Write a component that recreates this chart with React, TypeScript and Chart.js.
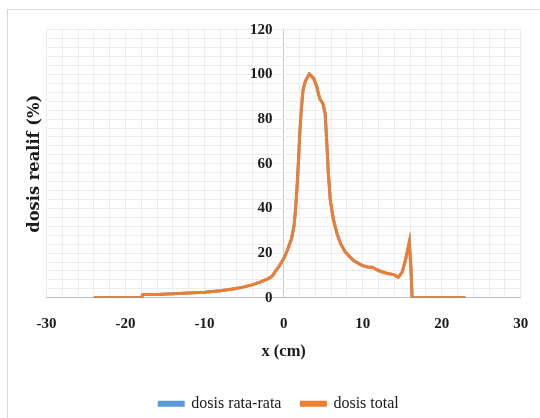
import React, { useEffect, useRef } from "react";
import { Chart, registerables } from "chart.js";

Chart.register(...registerables);

// x positions (cm)
const positions: number[] = [
  -24, -18, -17.8, -16, -14, -12, -10, -8, -6, -5,
  -4, -3, -2, -1.5, -1, -0.5, 0, 0.5, 1.0, 1.3,
  1.5, 1.7, 1.9, 2.0, 2.1, 2.25, 2.45, 2.75, 3.25, 3.8,
  4.2, 4.55, 4.95, 5.25, 5.45, 5.65, 5.9, 6.3, 6.75, 7.2,
  7.8, 8.8, 9.9, 10.7, 11.2, 12.0, 13.0, 13.9, 14.5, 15.0,
  15.4, 15.9, 16.1, 16.25, 23,
];

// relative dose (%) — total
const doseTotal: number[] = [
  0, 0, 1.5, 1.5, 1.8, 2.1, 2.5, 3.2, 4.2, 4.9,
  5.8, 7.0, 8.5, 9.5, 12, 14.5, 17.5, 21.5, 26.5, 32,
  39, 50, 63, 71, 77, 85, 93, 97, 100.2, 98.2,
  94.4, 89.2, 87, 82.5, 70, 56, 43.6, 35, 28.7, 24.2,
  20.5, 16.8, 14.5, 13.7, 13.7, 12.2, 11, 10.4, 9.2, 11.5,
  16.7, 25, 13.5, 0, 0,
];

// relative dose (%) — average (coincides with total)
const doseAverage: number[] = [
  0, 0, 1.5, 1.5, 1.8, 2.1, 2.5, 3.2, 4.2, 4.9,
  5.8, 7.0, 8.5, 9.5, 12, 14.5, 17.5, 21.5, 26.5, 32,
  39, 50, 63, 71, 77, 85, 93, 97, 100.2, 98.2,
  94.4, 89.2, 87, 82.5, 70, 56, 43.6, 35, 28.7, 24.2,
  20.5, 16.8, 14.5, 13.7, 13.7, 12.2, 11, 10.4, 9.2, 11.5,
  16.7, 25, 13.5, 0, 0,
];

const seriesLabels: string[] = ["dosis rata-rata", "dosis total"];
const xTitle = "x (cm)";
const yTitle = "dosis realif (%)";

const tickFont = { family: "'Liberation Serif', serif", size: 15, weight: "bold" as const };

const yTitlePlugin = {
  id: "yTitlePlugin",
  afterDraw(chart: any) {
    const { ctx, chartArea } = chart;
    ctx.save();
    ctx.translate(35, (chartArea.top + chartArea.bottom) / 2);
    ctx.rotate(-Math.PI / 2);
    ctx.font = "bold 16.3px 'DejaVu Serif', serif";
    ctx.fillStyle = "#1a1a1a";
    ctx.textAlign = "center";
    ctx.textBaseline = "middle";
    ctx.fillText(yTitle, 0, 0);
    ctx.restore();
  },
};

export default function App() {
  const canvasRef = useRef<HTMLCanvasElement | null>(null);

  useEffect(() => {
    const canvas = canvasRef.current;
    if (!canvas) return;
    const chart = new Chart(canvas, {
      type: "line",
      data: {
        datasets: [
          {
            label: seriesLabels[0],
            data: positions.map((x, i) => ({ x, y: doseAverage[i] })),
            borderColor: "#5B9BD5",
            backgroundColor: "#5B9BD5",
            borderWidth: 3,
            pointRadius: 0,
            tension: 0,
            order: 2,
          },
          {
            label: seriesLabels[1],
            data: positions.map((x, i) => ({ x, y: doseTotal[i] })),
            borderColor: "#ED7D31",
            backgroundColor: "#ED7D31",
            borderWidth: 3,
            pointRadius: 0,
            tension: 0,
            order: 1,
          },
        ],
      },
      options: {
        animation: false,
        responsive: false,
        devicePixelRatio: 1,
        layout: { padding: { left: 37.2, right: 19.2, top: 29.7, bottom: 18.2 } },
        plugins: {
          tooltip: { enabled: false },
          legend: {
            position: "bottom",
            labels: {
              boxWidth: 24,
              boxHeight: 3,
              padding: 20,
              color: "#1a1a1a",
              font: { family: "'Liberation Serif', serif", size: 16 },
              sort: (a: any, b: any) => a.datasetIndex - b.datasetIndex,
            },
          },
        },
        scales: {
          x: {
            type: "linear",
            min: -30,
            max: 30,
            ticks: {
              stepSize: 2,
              autoSkip: false,
              maxRotation: 0,
              padding: 0,
              color: "#1a1a1a",
              font: tickFont,
              callback: (v: any) => (Number(v) % 10 === 0 ? String(v) : ""),
            },
            grid: {
              color: (c: any) => (c.tick && c.tick.value === 0 ? "#c8c8c8" : "#ececec"),
              drawTicks: true,
              tickLength: 17.7,
              tickColor: "rgba(0,0,0,0)",
            },
            border: { color: "#bfbfbf", width: 1 },
            title: {
              display: true,
              text: xTitle,
              color: "#1a1a1a",
              font: { family: "'Liberation Serif', serif", size: 16.5, weight: "bold" },
              padding: { top: 8.5, bottom: 14 },
            },
          },
          y: {
            type: "linear",
            position: { x: -1.4 } as any,
            min: 0,
            max: 120,
            ticks: {
              stepSize: 4,
              autoSkip: false,
              padding: 0,
              color: "#1a1a1a",
              font: tickFont,
              callback: (v: any) => (Number(v) % 20 === 0 ? String(v) : ""),
            },
            grid: { color: "#ececec", drawTicks: false },
            border: { display: false },
          },
          ySpacer: {
            type: "linear",
            position: "left",
            display: true,
            grid: { display: false, drawTicks: false },
            ticks: { display: false },
            border: { display: false },
            afterFit: (s: any) => {
              s.width = 9.3;
            },
          },
        },
      },
      plugins: [yTitlePlugin],
    });
    return () => chart.destroy();
  }, []);

  return (
    <div
      style={{
        position: "fixed",
        left: 0,
        top: 0,
        width: 540,
        height: 418,
        overflow: "hidden",
        background: "#ffffff",
      }}
    >
      <div
        style={{
          position: "absolute",
          left: 7,
          top: 9,
          width: 600,
          height: 600,
          border: "1px solid #d9d9d9",
        }}
      />
      <canvas
        ref={canvasRef}
        width={540}
        height={440}
        style={{ position: "absolute", left: 0, top: 0, width: 540, height: 440 }}
      />
    </div>
  );
}
